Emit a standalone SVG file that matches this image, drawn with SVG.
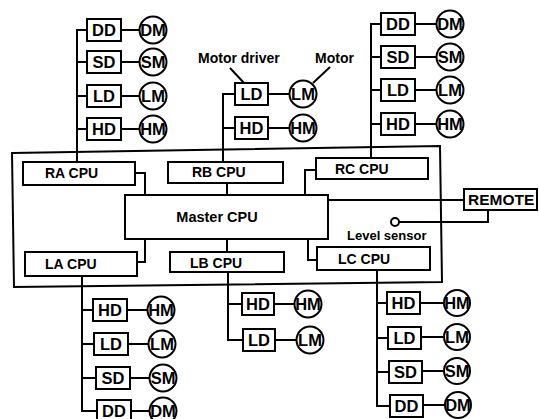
<svg xmlns="http://www.w3.org/2000/svg" width="539" height="419" viewBox="0 0 539 419">
<style>
rect,circle,polygon{fill:#fff;stroke:#000;stroke-width:2}
.c path,.c line{fill:none;stroke:#000;stroke-width:2}
text{font-family:"Liberation Sans",Arial,sans-serif;font-weight:bold;fill:#000}
.b{font-size:16.5px;text-anchor:middle}
.cpu{font-size:14px}
.s{font-size:13px}
</style>
<rect x="0" y="0" width="539" height="419" style="fill:#fff;stroke:none"/>
<g id="system"><polygon points="12,153 440,146 442,282 14,287"/></g>
<g class="c" id="connectors">
<path d="M77,162V30H87M77,62H87M77,96H87M77,129H87"/>
<path d="M121,30H140M121,62H140M121,96H140M121,129H140"/>
<path d="M371,158V24H381M371,57H381M371,90H381M371,124H381"/>
<path d="M415,24H437M415,57H437M415,90H437M415,124H437"/>
<path d="M223,162V94H235M223,128H235"/>
<path d="M268,94H290M268,128H290"/>
<path d="M82,276V411H97M82,310H93M82,344H94M82,378H96"/>
<path d="M127,310H148M128,344H149M130,378H150M131,411H150"/>
<path d="M228,272V340H243M228,304H242"/>
<path d="M274,304H295M275,340H297"/>
<path d="M377,270V406H390M377,303H387M377,338H388M377,372H389"/>
<path d="M420,303H444M421,337H444M422,371H444M423,405H445"/>
<path d="M135,173H145V195M145,239V262H137"/>
<path d="M227,183V195M227,239V252"/>
<path d="M316,170H305V195M308,239V260H317"/>
<path d="M328,200H464"/>
<path d="M399,222H488V210"/>
<path d="M230,68L245,84M330,67L313,83"/>
</g>
<g id="tl-dd"><rect x="87" y="19" width="34" height="22"/><text class="b" x="104" y="36">DD</text></g>
<g id="tl-sd"><rect x="87" y="51" width="34" height="22"/><text class="b" x="104" y="68">SD</text></g>
<g id="tl-ld"><rect x="87" y="85" width="34" height="22"/><text class="b" x="104" y="102">LD</text></g>
<g id="tl-hd"><rect x="87" y="118" width="34" height="22"/><text class="b" x="104" y="135">HD</text></g>
<g id="tl-dm"><circle cx="153" cy="30" r="13.5"/><text class="b" x="153" y="36">DM</text></g>
<g id="tl-sm"><circle cx="153" cy="62" r="13.5"/><text class="b" x="153" y="68">SM</text></g>
<g id="tl-lm"><circle cx="153" cy="96" r="13.5"/><text class="b" x="153" y="102">LM</text></g>
<g id="tl-hm"><circle cx="153" cy="129" r="13.5"/><text class="b" x="153" y="135">HM</text></g>
<g id="tr-dd"><rect x="381" y="13" width="34" height="22"/><text class="b" x="398" y="30">DD</text></g>
<g id="tr-sd"><rect x="381" y="46" width="34" height="22"/><text class="b" x="398" y="63">SD</text></g>
<g id="tr-ld"><rect x="381" y="79" width="34" height="22"/><text class="b" x="398" y="96">LD</text></g>
<g id="tr-hd"><rect x="381" y="113" width="34" height="22"/><text class="b" x="398" y="130">HD</text></g>
<g id="tr-dm"><circle cx="450" cy="24" r="13.5"/><text class="b" x="450" y="30">DM</text></g>
<g id="tr-sm"><circle cx="450" cy="57" r="13.5"/><text class="b" x="450" y="63">SM</text></g>
<g id="tr-lm"><circle cx="450" cy="90" r="13.5"/><text class="b" x="450" y="96">LM</text></g>
<g id="tr-hm"><circle cx="450" cy="124" r="13.5"/><text class="b" x="450" y="130">HM</text></g>
<g id="tm-ld"><rect x="235" y="83" width="33" height="22"/><text class="b" x="251.5" y="100">LD</text></g>
<g id="tm-hd"><rect x="235" y="117" width="33" height="22"/><text class="b" x="251.5" y="134">HD</text></g>
<g id="tm-lm"><circle cx="303" cy="94" r="13.5"/><text class="b" x="303" y="100">LM</text></g>
<g id="tm-hm"><circle cx="303" cy="128" r="13.5"/><text class="b" x="303" y="134">HM</text></g>
<g id="label-driver"><text class="s" x="198" y="63" style="font-size:14px">Motor driver</text></g>
<g id="label-motor"><text class="s" x="315" y="63" style="font-size:14px">Motor</text></g>
<g id="bl-hd"><rect x="93" y="299" width="34" height="22"/><text class="b" x="110" y="316">HD</text></g>
<g id="bl-ld"><rect x="94" y="333" width="34" height="22"/><text class="b" x="111" y="350">LD</text></g>
<g id="bl-sd"><rect x="96" y="367" width="34" height="22"/><text class="b" x="113" y="384">SD</text></g>
<g id="bl-dd"><rect x="97" y="400" width="34" height="22"/><text class="b" x="114" y="417">DD</text></g>
<g id="bl-hm"><circle cx="161" cy="310" r="13.5"/><text class="b" x="161" y="316">HM</text></g>
<g id="bl-lm"><circle cx="162" cy="344" r="13.5"/><text class="b" x="162" y="350">LM</text></g>
<g id="bl-sm"><circle cx="163" cy="378" r="13.5"/><text class="b" x="163" y="384">SM</text></g>
<g id="bl-dm"><circle cx="163" cy="411" r="13.5"/><text class="b" x="163" y="417">DM</text></g>
<g id="bm-hd"><rect x="242" y="293" width="32" height="22"/><text class="b" x="258" y="310">HD</text></g>
<g id="bm-ld"><rect x="243" y="329" width="32" height="22"/><text class="b" x="259" y="346">LD</text></g>
<g id="bm-hm"><circle cx="308" cy="304" r="13.5"/><text class="b" x="308" y="310">HM</text></g>
<g id="bm-lm"><circle cx="310" cy="340" r="13.5"/><text class="b" x="310" y="346">LM</text></g>
<g id="br-hd"><rect x="387" y="292" width="33" height="22"/><text class="b" x="403.5" y="309">HD</text></g>
<g id="br-ld"><rect x="388" y="327" width="33" height="22"/><text class="b" x="404.5" y="344">LD</text></g>
<g id="br-sd"><rect x="389" y="361" width="33" height="22"/><text class="b" x="405.5" y="378">SD</text></g>
<g id="br-dd"><rect x="390" y="395" width="33" height="22"/><text class="b" x="406.5" y="412">DD</text></g>
<g id="br-hm"><circle cx="457" cy="303" r="13"/><text class="b" x="457" y="309">HM</text></g>
<g id="br-lm"><circle cx="457" cy="337" r="13"/><text class="b" x="457" y="343">LM</text></g>
<g id="br-sm"><circle cx="457" cy="371" r="13"/><text class="b" x="457" y="377">SM</text></g>
<g id="br-dm"><circle cx="458" cy="405" r="13"/><text class="b" x="458" y="411">DM</text></g>
<g id="ra-cpu"><rect x="23" y="162" width="112" height="23"/><text class="cpu" x="45" y="178">RA CPU</text></g>
<g id="rb-cpu"><rect x="168" y="162" width="115" height="21"/><text class="cpu" x="192" y="177">RB CPU</text></g>
<g id="rc-cpu"><rect x="316" y="158" width="112" height="21"/><text class="cpu" x="335" y="174">RC CPU</text></g>
<g id="master-cpu"><rect x="125" y="195" width="203" height="44"/><text class="cpu" x="217" y="222" style="text-anchor:middle;font-size:14.5px">Master CPU</text></g>
<g id="la-cpu"><rect x="25" y="252" width="112" height="24"/><text class="cpu" x="45" y="269">LA CPU</text></g>
<g id="lb-cpu"><rect x="170" y="252" width="114" height="20"/><text class="cpu" x="190" y="268">LB CPU</text></g>
<g id="lc-cpu"><rect x="317" y="247" width="113" height="23"/><text class="cpu" x="338" y="264">LC CPU</text></g>
<g id="remote"><rect x="464" y="189" width="73" height="21"/><text class="cpu" x="468" y="205" style="font-size:15.5px">REMOTE</text></g>
<g id="level-sensor"><circle cx="395" cy="222" r="4"/><text class="s" x="347" y="240">Level sensor</text></g>
</svg>
